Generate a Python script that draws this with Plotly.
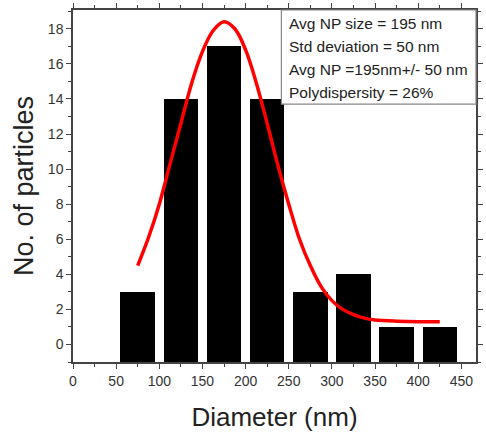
import plotly.graph_objects as go

# Histogram data
bin_centers = [75, 125, 175, 225, 275, 325, 375, 425]
counts = [3, 14, 17, 14, 3, 4, 1, 1]
bin_width = 40

# Fitted curve
fit_x = [75, 87.5, 100, 112.5, 125, 137.5, 150, 162.5, 175, 187.5, 200, 212.5, 225, 237.5, 250,
         262.5, 275, 287.5, 300, 312.5, 325, 337.5, 350, 375, 400, 425]
fit_y = [4.5, 6.1, 8.0, 10.3, 12.6, 14.9, 16.7, 17.9, 18.4, 18.0, 16.8, 14.9, 12.6, 10.2, 8.0,
         6.0, 4.5, 3.3, 2.5, 2.0, 1.7, 1.5, 1.4, 1.33, 1.3, 1.3]

stats_lines = ["Avg NP size = 195 nm", "Std deviation = 50 nm",
               "Avg NP =195nm+/- 50 nm", "Polydispersity = 26%"]

base = -1
fig = go.Figure()
fig.add_trace(go.Bar(x=bin_centers, y=[c - base for c in counts], base=base, width=bin_width,
                     marker=dict(color="black", line=dict(width=0)), showlegend=False))
fig.add_trace(go.Scatter(x=fit_x, y=fit_y, mode="lines", line=dict(color="#ff0000", width=3.5, shape="spline"),
                         showlegend=False))

W, H = 486, 439
ml, mr, mt, mb = 73, 3, 7, 77
pw, ph = W - ml - mr, H - mt - mb

axis_common = dict(showline=True, linecolor="#444", linewidth=1.5, mirror="allticks",
                   ticks="outside", ticklen=5, tickwidth=1.2, tickcolor="#444",
                   showgrid=False, zeroline=False,
                   tickfont=dict(family="Liberation Sans, Arial", size=14, color="#333"))
fig.update_xaxes(range=[0, 467], tickvals=list(range(0, 451, 50)),
                 minor=dict(ticks="outside", ticklen=3, tickcolor="#444", dtick=25, tick0=0),
                 title=dict(text="Diameter (nm)", font=dict(family="Liberation Sans, Arial", size=26, color="#222"),
                            standoff=20),
                 **axis_common)
fig.update_yaxes(range=[-1, 19.07], tickvals=list(range(0, 19, 2)),
                 minor=dict(ticks="outside", ticklen=3, tickcolor="#444", dtick=1, tick0=0),
                 title=dict(text="No. of particles", font=dict(family="Liberation Sans, Arial", size=27, color="#222"),
                            standoff=6),
                 **axis_common)

# Stats box
x0p = (285 - ml) / pw
y1p = 1.0
y0p = 1 - (102 - mt) / ph
fig.add_shape(type="rect", xref="paper", yref="paper", x0=x0p, x1=1.0, y0=y0p, y1=y1p,
              line=dict(color="#888", width=1.2), fillcolor="white", layer="above")
line_y = [21, 44, 67, 90]
for txt, yy in zip(stats_lines, line_y):
    fig.add_annotation(xref="paper", yref="paper", x=(291 - ml) / pw, y=1 - (yy - mt) / ph,
                       text=txt, showarrow=False, xanchor="left", yanchor="middle",
                       font=dict(family="Liberation Sans, Arial", size=15.5, color="#222"))

fig.update_layout(width=W, height=H, margin=dict(l=ml, r=mr, t=mt, b=mb),
                  plot_bgcolor="white", paper_bgcolor="white", bargap=0)
fig.write_html("out.html")
